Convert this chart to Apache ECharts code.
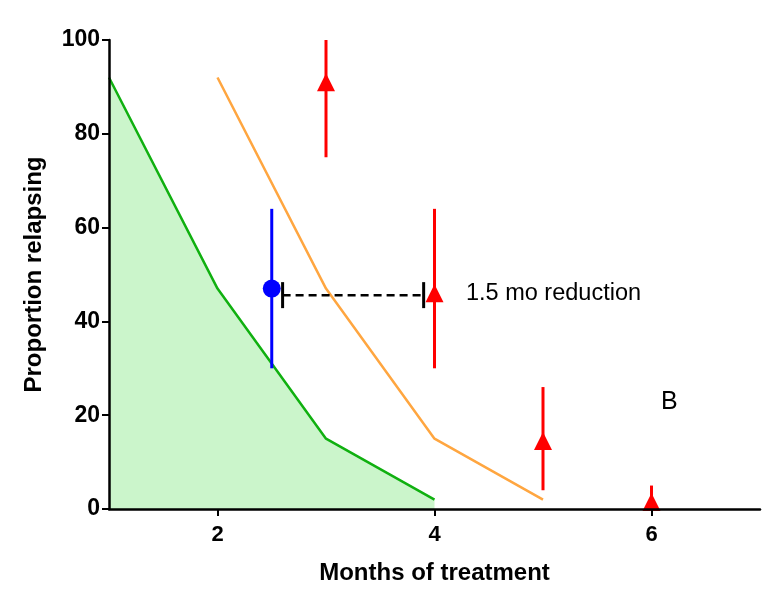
<!DOCTYPE html>
<html>
<head>
<meta charset="utf-8">
<script src="https://cdn.jsdelivr.net/npm/echarts@6/dist/echarts.min.js"></script>
<style>
html,body{margin:0;padding:0;background:#ffffff;}
#c{width:769px;height:603px;}
</style>
</head>
<body>
<div id="c"></div>
<script>
// ---- data ----
var targetMonths = [1, 2, 3, 4];
var targetRelapse = [92, 47, 15, 2];
var currentMonths = [2, 3, 4, 5];
var currentRelapse = [92, 47, 15, 2];
var trialMonths = [3, 4, 5, 6];
var trialRelapse = [91, 46, 14.5, 1.5];
var trialLow = [75, 30, 4, 0];
var trialHigh = [100, 64, 26, 5];
var newMonths = [2.5];
var newRelapse = [47];
var newLow = [30];
var newHigh = [64];
var reductionFrom = 2.6;
var reductionTo = 3.9;
var reductionLevel = 45.6;
var xTicks = [2, 4, 6];
var yTicks = [0, 20, 40, 60, 80, 100];

var FONT = '"Liberation Sans", Arial, sans-serif';

function pairs(xs, ys){ return xs.map(function(x,i){ return [x, ys[i]]; }); }
function errs(xs, lo, hi){ return xs.map(function(x,i){ return [x, lo[i], hi[i]]; }); }

function errRender(color){
  return function(params, api){
    var p1 = api.coord([api.value(0), api.value(1)]);
    var p2 = api.coord([api.value(0), api.value(2)]);
    return {type:'line', shape:{x1:p1[0], y1:p1[1], x2:p2[0], y2:p2[1]},
            style:{stroke:color, lineWidth:3}};
  };
}

var chart = echarts.init(document.getElementById('c'), null, {renderer:'canvas'});
chart.setOption({
  animation:false,
  backgroundColor:'#ffffff',
  grid:{left:109, right:9, top:40, bottom:94, containLabel:false},
  xAxis:{
    type:'value', min:1, max:7, z:10,
    name:'Months of treatment', nameLocation:'middle', nameGap:52,
    nameTextStyle:{fontFamily:FONT, fontWeight:'bold', fontSize:24, color:'#000'},
    axisLine:{onZero:false, lineStyle:{color:'#000', width:2.5}},
    axisTick:{show:true, length:7, lineStyle:{color:'#000', width:2}, customValues:xTicks},
    axisLabel:{fontFamily:FONT, fontWeight:'bold', fontSize:22, color:'#000', margin:15, customValues:xTicks},
    splitLine:{show:false}
  },
  yAxis:{
    type:'value', min:0, max:100, interval:20, z:10,
    name:'Proportion relapsing', nameLocation:'middle', nameGap:63, nameRotate:90,
    nameTextStyle:{fontFamily:FONT, fontWeight:'bold', fontSize:24, color:'#000'},
    axisLine:{show:true, onZero:false, lineStyle:{color:'#000', width:2.5}},
    axisTick:{show:true, length:7, lineStyle:{color:'#000', width:2}},
    axisLabel:{fontFamily:FONT, fontWeight:'bold', fontSize:23, color:'#000', margin:9},
    splitLine:{show:false}
  },
  series:[
    {type:'line', data:pairs(targetMonths, targetRelapse), symbol:'none',
     lineStyle:{color:'#10b010', width:2.5}, areaStyle:{color:'#cbf5cb', opacity:1}, z:1},
    {type:'line', data:pairs(currentMonths, currentRelapse), symbol:'none',
     lineStyle:{color:'#ffa640', width:2.5}, z:2},
    {type:'custom', data:errs(trialMonths, trialLow, trialHigh), renderItem:errRender('#ff0000'), z:3},
    {type:'custom', data:errs(newMonths, newLow, newHigh), renderItem:errRender('#0000ff'), z:3},
    {type:'custom', data:[[reductionFrom, reductionTo, reductionLevel]], z:4,
     renderItem:function(params, api){
       var a = api.coord([api.value(0), api.value(2)]);
       var b = api.coord([api.value(1), api.value(2)]);
       return {type:'group', children:[
         {type:'line', shape:{x1:a[0], y1:a[1], x2:b[0], y2:b[1]},
          style:{stroke:'#000', lineWidth:2.5, lineDash:[8,5]}},
         {type:'line', shape:{x1:a[0], y1:a[1]-13, x2:a[0], y2:a[1]+13},
          style:{stroke:'#000', lineWidth:3}},
         {type:'line', shape:{x1:b[0], y1:b[1]-13, x2:b[0], y2:b[1]+13},
          style:{stroke:'#000', lineWidth:3}}
       ]};
     }},
    {type:'scatter', data:pairs(trialMonths, trialRelapse), symbol:'triangle', symbolSize:[18,18],
     itemStyle:{color:'#ff0000', opacity:1}, z:5},
    {type:'scatter', data:pairs(newMonths, newRelapse), symbol:'circle', symbolSize:18,
     itemStyle:{color:'#0000ff', opacity:1}, z:5}
  ],
  graphic:[
    {type:'text', left:466, top:282, style:{text:'1.5 mo reduction', font:'23.5px ' + FONT, fill:'#000'}},
    {type:'text', left:661, top:390, style:{text:'B', font:'25px ' + FONT, fill:'#000'}},
    {type:'text', left:124, top:439, style:{text:'Target area for', font:'20.5px ' + FONT, fill:'#000'}},
    {type:'text', left:128, top:465, style:{text:'2mo reduction', font:'20.5px ' + FONT, fill:'#000'}}
  ]
});
</script>
</body>
</html>
